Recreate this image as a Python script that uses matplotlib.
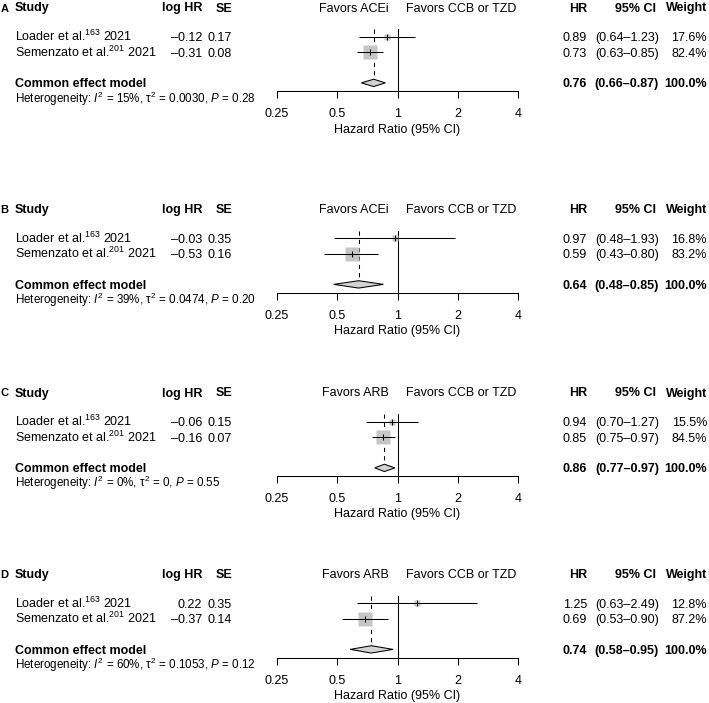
import numpy as np
import matplotlib
matplotlib.use("Agg")
import matplotlib.pyplot as plt
from matplotlib.patches import Polygon
from matplotlib.ticker import NullLocator

plt.rcParams['font.family'] = ['Liberation Sans', 'DejaVu Sans']
plt.rcParams['mathtext.fontset'] = 'custom'
plt.rcParams['mathtext.rm'] = 'Liberation Sans'
plt.rcParams['mathtext.it'] = 'Liberation Sans:italic'
plt.rcParams['mathtext.bf'] = 'Liberation Sans:bold'

# data
panels = ["A", "B", "C", "D"]
favors_left = ["ACEi", "ACEi", "ARB", "ARB"]
favors_right = "CCB or TZD"
studies = ["Loader et al.", "Semenzato et al."]
refs = ["163", "201"]
years = ["2021", "2021"]

log_hr = [[-0.12, -0.31], [-0.03, -0.53], [-0.06, -0.16], [0.22, -0.37]]
se = [[0.17, 0.08], [0.35, 0.16], [0.15, 0.07], [0.35, 0.14]]
hr = [[0.89, 0.73], [0.97, 0.59], [0.94, 0.85], [1.25, 0.69]]
ci_lo = [[0.64, 0.63], [0.48, 0.43], [0.70, 0.75], [0.63, 0.53]]
ci_hi = [[1.23, 0.85], [1.93, 0.80], [1.27, 0.97], [2.49, 0.90]]
weight = [[17.6, 82.4], [16.8, 83.2], [15.5, 84.5], [12.8, 87.2]]

pooled_hr = [0.76, 0.64, 0.86, 0.74]
pooled_lo = [0.66, 0.48, 0.77, 0.58]
pooled_hi = [0.87, 0.85, 0.97, 0.95]
i2 = ["15%", "39%", "0%", "60%"]
tau2 = ["0.0030", "0.0474", "0", "0.1053"]
p_het = ["0.28", "0.20", "0.55", "0.12"]

ticks = [0.25, 0.5, 1, 2, 4]
tick_labels = ["0.25", "0.5", "1", "2", "4"]

# layout (pixels)
W, H = 709, 703
tops = [7, 208.5, 392, 573.5]
x_left, x_right = 277, 518
y0, y1 = 0.48, 4.53   # row range of forest axes
row_top, row_bot = 22, 84


def fx(x):
    return x / W


def fy(y):
    return 1 - y / H


def row_pix(h, r):
    return h + row_top + (r - y0) * (row_bot - row_top) / (y1 - y0)


def put(x, y, s, ha="left", bold=False, size=9):
    fig.text(fx(x), fy(y + 4.5), s, ha=ha, va="baseline", fontsize=size,
             fontweight="bold" if bold else "normal")


def num(v):
    return f"{v:.2f}".replace("-", "\u2013")


fig = plt.figure(figsize=(W / 100, H / 100), dpi=100)

for k, h in enumerate(tops):
    # header
    put(0.5, h, panels[k], bold=True, size=8)
    put(15, h, "Study", bold=True)
    put(202, h, "log HR", ha="right", bold=True)
    put(232, h, "SE", ha="right", bold=True)
    put(389, h, "Favors " + favors_left[k], ha="right")
    put(406, h, "Favors " + favors_right)
    put(587, h, "HR", ha="right", bold=True)
    put(656, h, "95% CI", ha="right", bold=True)
    put(707, h, "Weight", ha="right", bold=True)

    for i in range(len(studies)):
        y = row_pix(h, i + 1)
        put(15, y, studies[i] + "$^{" + refs[i] + "}$ " + years[i])
        put(202, y, num(log_hr[k][i]), ha="right")
        put(232, y, f"{se[k][i]:.2f}", ha="right")
        put(587, y, f"{hr[k][i]:.2f}", ha="right")
        put(659, y, f"({ci_lo[k][i]:.2f}\u2013{ci_hi[k][i]:.2f})", ha="right")
        put(707, y, f"{weight[k][i]:.1f}%", ha="right")

    y = row_pix(h, 4)
    put(15, y, "Common effect model", bold=True)
    put(587, y, f"{pooled_hr[k]:.2f}", ha="right", bold=True)
    put(659, y, f"({pooled_lo[k]:.2f}\u2013{pooled_hi[k]:.2f})", ha="right", bold=True)
    put(707, y, f"{sum(weight[k]):.1f}%", ha="right", bold=True)
    put(15, h + 91, "Heterogeneity: $I^2$ = " + i2[k] + ", \u03c4$^2$ = " + tau2[k]
        + ", $P$ = " + p_het[k], size=8.4)

    # forest plot
    ax = fig.add_axes([fx(x_left), fy(h + row_bot), (x_right - x_left) / W,
                       (row_bot - row_top) / H])
    ax.patch.set_visible(False)
    ax.set_xscale("log", base=2)
    ax.set_xlim(ticks[0], ticks[-1])
    ax.set_ylim(y1, y0)
    for s in ["top", "left", "right"]:
        ax.spines[s].set_visible(False)
    ax.spines["bottom"].set_linewidth(0.75)
    ax.set_xticks(ticks)
    ax.set_xticklabels(tick_labels)
    ax.xaxis.set_minor_locator(NullLocator())
    ax.set_yticks([])
    ax.tick_params(axis="x", direction="out", length=5, width=0.75, pad=7.3,
                   labelsize=9)

    ax.axvline(1, color="black", lw=0.75)
    ax.vlines(pooled_hr[k], y0, 4 - 0.24, colors="black", lw=0.75,
              linestyles=(0, (4, 4)))
    for i in range(len(studies)):
        r = i + 1
        side = 1.45 * np.sqrt(weight[k][i]) * 0.72
        ax.plot(hr[k][i], r, marker="s", ms=side, mfc="#c6c6c6", mec="none",
                ls="none", clip_on=False, zorder=2)
        ax.hlines(r, ci_lo[k][i], ci_hi[k][i], colors="black", lw=0.75, zorder=3)
        ax.plot(hr[k][i], r, marker="|", ms=4, mec="black", mew=0.75,
                ls="none", clip_on=False, zorder=4)
    dia = Polygon([(pooled_lo[k], 4), (pooled_hr[k], 4 - 0.24),
                   (pooled_hi[k], 4), (pooled_hr[k], 4 + 0.24)],
                  closed=True, fc="#d3d3d3", ec="black", lw=0.75, zorder=3)
    ax.add_patch(dia)

    fig.text(fx((x_left + x_right) / 2), fy(h + 121 + 4.5), "Hazard Ratio (95% CI)",
             ha="center", va="baseline", fontsize=9)

fig.savefig("out.png", dpi=100)
